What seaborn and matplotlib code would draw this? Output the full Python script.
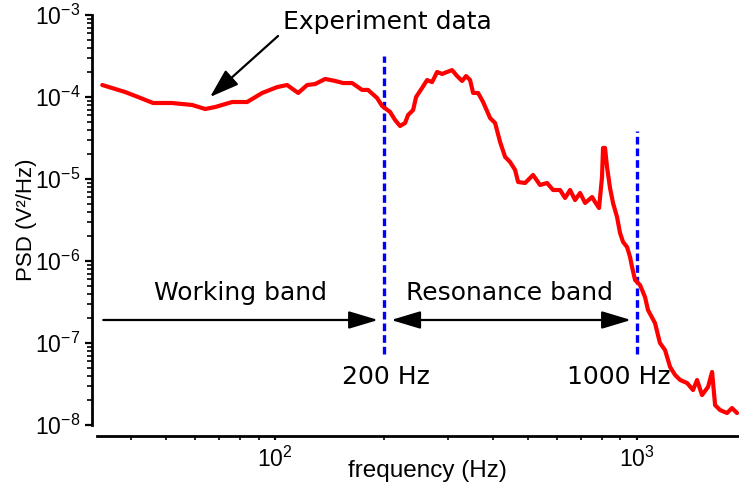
import matplotlib
matplotlib.use("Agg")
import matplotlib.pyplot as plt
import seaborn as sns
import pandas as pd
from matplotlib.ticker import LogLocator, NullFormatter

# Measured power spectral density of the sensor output
freq_hz = [33.3, 38.5, 41.8, 46.0, 51.9, 59.0, 64.1, 68.3, 76.1, 83.7,
           92.1, 101.3, 107.9, 115.8, 122.6, 129.0, 137.5, 146.5, 154.1, 163.2,
           173.9, 180.6, 191.3, 197.5, 207.8, 214.5, 221.4, 228.6, 233.0, 240.6,
           245.2, 254.7, 263.0, 271.5, 280.3, 289.3, 298.7, 308.3, 318.3, 328.6,
           337.0, 345.7, 352.4, 363.8, 375.5, 392.6, 405.3, 418.4, 432.0, 445.9,
           460.3, 469.2, 490.5, 516.1, 539.5, 564.1, 586.1, 612.8, 632.6, 653.0,
           674.2, 696.0, 718.6, 751.2, 765.6, 785.2, 800.3, 805.4, 815.7, 826.2,
           842.1, 858.3, 880.5, 897.4, 914.7, 938.4, 956.5, 968.7, 987.4, 1019,
           1052, 1072, 1121, 1157, 1195, 1234, 1274, 1315, 1375, 1428,
           1465, 1512, 1571, 1612, 1643, 1696, 1773, 1830, 1889]
psd_v2_hz = [1.40e-4, 1.15e-4, 1.00e-4, 8.45e-5, 8.45e-5, 7.99e-5, 7.14e-5, 7.55e-5, 8.69e-5, 8.69e-5,
             1.12e-4, 1.32e-4, 1.40e-4, 1.12e-4, 1.40e-4, 1.44e-4, 1.66e-4, 1.57e-4, 1.48e-4, 1.48e-4,
             1.22e-4, 1.22e-4, 9.72e-5, 7.77e-5, 6.57e-5, 5.24e-5, 4.43e-5, 4.82e-5, 6.03e-5, 6.94e-5,
             1.00e-4, 1.29e-4, 1.61e-4, 1.52e-4, 2.02e-4, 1.91e-4, 2.02e-4, 2.13e-4, 1.80e-4, 1.57e-4,
             1.80e-4, 1.61e-4, 1.12e-4, 1.12e-4, 8.69e-5, 5.54e-5, 4.82e-5, 2.83e-5, 1.86e-5, 1.61e-5,
             1.29e-5, 9.19e-6, 8.94e-6, 1.12e-5, 8.45e-6, 8.94e-6, 7.34e-6, 7.34e-6, 5.87e-6, 7.34e-6,
             5.54e-6, 6.75e-6, 5.10e-6, 6.03e-6, 5.24e-6, 4.43e-6, 1.06e-5, 2.39e-5, 2.39e-5, 1.40e-5,
             7.77e-6, 5.10e-6, 3.44e-6, 2.20e-6, 1.71e-6, 1.48e-6, 1.12e-6, 8.45e-7, 5.87e-7, 5.10e-7,
             3.64e-7, 2.53e-7, 1.75e-7, 1.00e-7, 8.21e-8, 5.10e-8, 4.07e-8, 3.54e-8, 3.25e-8, 2.67e-8,
             3.54e-8, 2.32e-8, 2.91e-8, 4.43e-8, 1.75e-8, 1.52e-8, 1.40e-8, 1.61e-8, 1.40e-8]

# Band boundaries and their labels
band_edges_hz = [200, 1000]
band_edge_labels = ["200 Hz", "1000 Hz"]
band_names = ["Working band", "Resonance band"]

df = pd.DataFrame({"frequency": freq_hz, "psd": psd_v2_hz})

sns.set_style("ticks")
plt.rcParams["font.family"] = ["Liberation Sans", "DejaVu Sans"]
plt.rcParams["mathtext.default"] = "regular"

fig = plt.figure(figsize=(7.39, 4.91), dpi=100)
ax = fig.add_axes([97 / 739, 1 - 425 / 491, 642 / 739, 410 / 491])
ax.set_xscale("log")
ax.set_yscale("log")

sns.lineplot(data=df, x="frequency", y="psd", estimator=None, sort=False,
             color="#ff0000", lw=3, ax=ax, zorder=4)

ax.set_xlim(32.2, 1913)
ax.set_ylim(1e-8, 1e-3)

# Band boundary markers
line_tops = [3.16e-4, 3.85e-5]
line_bottom = 7.3e-8
for edge, top in zip(band_edges_hz, line_tops):
    ax.plot([edge, edge], [line_bottom, top], color="#0000ff", lw=2.4,
            linestyle=(0, (2.3, 1.2)), zorder=3)

ann_font = dict(family="DejaVu Sans", fontsize=18, color="black")

# Band labels and extent arrows
ax.text(80.1, 3.35e-7, band_names[0], ha="center", va="baseline", **ann_font)
ax.text(443, 3.35e-7, band_names[1], ha="center", va="baseline", **ann_font)
ax.text(202, 3.16e-8, band_edge_labels[0], ha="center", va="baseline", **ann_font)
ax.text(892, 3.16e-8, band_edge_labels[1], ha="center", va="baseline", **ann_font)

arrow_y = 1.908e-7
ax.annotate("", xy=(192.5, arrow_y), xytext=(33.5, arrow_y),
            arrowprops=dict(arrowstyle="-|>,head_length=0.9,head_width=0.27",
                            mutation_scale=20, color="black", lw=1.6,
                            shrinkA=0, shrinkB=0))
ax.annotate("", xy=(962.5, arrow_y), xytext=(209.2, arrow_y),
            arrowprops=dict(arrowstyle="<|-|>,head_length=0.9,head_width=0.27",
                            mutation_scale=20, color="black", lw=1.6,
                            shrinkA=0, shrinkB=0))

# Pointer to the measured curve
ax.text(105, 6.74e-4, "Experiment data", ha="left", va="baseline", **ann_font)
ax.annotate("", xy=(66.1, 1.0e-4), xytext=(101.9, 5.55e-4),
            arrowprops=dict(arrowstyle="-|>,head_length=0.9,head_width=0.3",
                            mutation_scale=20, color="black", lw=1.6,
                            shrinkA=0, shrinkB=0))

# Axes styling: open frame with detached spines
for side in ("top", "right"):
    ax.spines[side].set_visible(False)
ax.spines["left"].set_position(("outward", 3.6))
ax.spines["bottom"].set_position(("outward", 7.9))
for side in ("left", "bottom"):
    ax.spines[side].set_linewidth(2.0)
    ax.spines[side].set_color("black")

ax.yaxis.set_major_locator(LogLocator(base=10, numticks=10))
ax.yaxis.set_minor_locator(LogLocator(base=10, subs=range(2, 10), numticks=20))
ax.xaxis.set_minor_locator(LogLocator(base=10, subs=range(2, 10), numticks=20))
ax.xaxis.set_minor_formatter(NullFormatter())
ax.yaxis.set_minor_formatter(NullFormatter())

ax.tick_params(axis="y", which="major", direction="out", length=5, width=1.6,
               labelsize=16.5, pad=3.5, colors="black")
ax.tick_params(axis="y", which="minor", direction="out", length=3.5, width=1.4)
ax.tick_params(axis="x", which="major", direction="out", length=3, width=1.6,
               labelsize=16.5, pad=5, colors="black")
ax.tick_params(axis="x", which="minor", direction="out", length=3, width=1.4)

ax.set_xlabel("frequency (Hz)", fontsize=17.5, color="black")
ax.set_ylabel("PSD (V²/Hz)", fontsize=16, color="black")
ax.xaxis.set_label_coords(0.514, -0.0854)
ax.yaxis.set_label_coords(-0.094, 0.5)

fig.savefig("out.png", dpi=100)
